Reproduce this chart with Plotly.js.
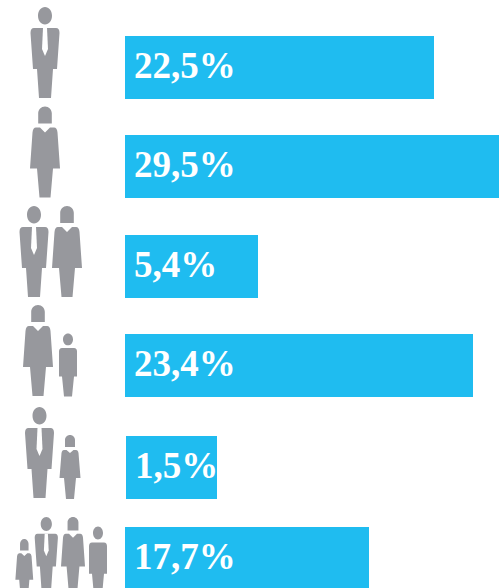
<!DOCTYPE html>
<html><head><meta charset="utf-8">
<script src="https://cdn.plot.ly/plotly-3.0.1.min.js"></script>
<style>html,body{margin:0;padding:0;background:#fff}#c{width:500px;height:588px}</style>
</head><body><div id="c"></div>
<script>
// Data
var groups = ["Man", "Woman", "Couple", "Mother and child", "Father and child", "Family"];
var labels = ["22,5%", "29,5%", "5,4%", "23,4%", "1,5%", "17,7%"];
var barLengths = [309, 374, 133, 348, 91, 244];
var barStarts = [125, 125, 125, 125, 126, 125];
var rowCentres = [67.5, 166.5, 266.5, 365.5, 467.5, 558.5];

var BLUE = "#1fbcf0", GREY = "#97989d";

function f(n){return n.toFixed(2);}
// Build an SVG path from [cmd, x, y, ...] segments in icon units
function path(segs, cx, top, sx, sy){
  return segs.map(function(s){
    var out = s[0];
    for (var i = 1; i < s.length; i += 2) {
      out += (i > 1 ? " " : "") + f(cx + s[i]*sx) + "," + f(top + s[i+1]*sy);
    }
    return out;
  }).join(" ");
}
function head(r, ry, cy){
  var k = 0.56;
  return [["M",-r,cy],
    ["C",-r,cy-ry*k,-r*k,cy-ry,0,cy-ry],["C",r*k,cy-ry,r,cy-ry*k,r,cy],
    ["C",r,cy+ry*k,r*k,cy+ry,0,cy+ry],["C",-r*k,cy+ry,-r,cy+ry*k,-r,cy],["Z"]];
}
function hair(r, h){
  var k = 0.56;
  return [["M",-r,h],["L",-r,r],["C",-r,r*(1-k),-r*k,0,0,0],["C",r*k,0,r,r*(1-k),r,r],["L",r,h],["Z"]];
}
var MAN = head(7,8.7,8.7).concat([
  ["M",-11,21],["L",11,21],["Q",14.5,21,14.5,26],["L",12,62],["L",8,62],["L",6,91],["L",-6,91],["L",-8,62],["L",-12,62],["L",-14.5,26],["Q",-14.5,21,-11,21],["Z"]
]);
var TIE = [["M",-2,21],["L",2,21],["L",3,42],["L",0,49],["L",-3,42],["Z"]];
var WOMAN = hair(6.8,17).concat([
  ["M",-9,21],["L",-5,21],["L",0,26],["L",5,21],["L",9,21],["Q",12,21,12.5,26],["L",15,62],["L",8,62],["L",5.5,91],["L",-5.5,91],["L",-8,62],["L",-15,62],["L",-12.5,26],["Q",-12,21,-9,21],["Z"]]);
var BOY = head(5,5.9,5.9).concat([
  ["M",-6,14.5],["L",6,14.5],["Q",9,14.5,9,18],["L",9,43],["L",6,43],["L",4,63],["L",-4,63],["L",-6,43],["L",-9,43],["L",-9,18],["Q",-9,14.5,-6,14.5],["Z"]
]);
var GIRL = hair(5,12).concat([
  ["M",-6,15],["L",-3.5,15],["L",0,18],["L",3.5,15],["L",6,15],["Q",8,15,8.5,18],["L",10.5,43],["L",6,43],["L",4,64],["L",-4,64],["L",-6,43],["L",-10.5,43],["L",-8.5,18],["Q",-8,15,-6,15],["Z"]]);

var shapes = [];
function add(segs, cx, top, sx, sy, color){
  shapes.push({type:"path", xref:"x", yref:"y", layer:"above", path:path(segs,cx,top,sx,sy),
    fillcolor:color, line:{width:0}});
}
function man(cx,top,sx,sy){ add(MAN,cx,top,sx,sy,GREY); add(TIE,cx,top,sx,sy,"#ffffff"); }
function woman(cx,top,sx,sy){ add(WOMAN,cx,top,sx,sy,GREY); }
function boy(cx,top,sx,sy){ add(BOY,cx,top,sx,sy,GREY); }
function girl(cx,top,sx,sy){ add(GIRL,cx,top,sx,sy,GREY); }

man(45,7,1,1);
woman(45,106.5,1,1);
man(34,206,1,1); woman(67,206,1,1);
woman(38,305,1,1); boy(68,333.5,1,1);
man(39.5,407,1,1); girl(70,435,1,1);
girl(24.3,539,0.85,0.95); man(46.3,517,0.8,0.8); woman(73,517,0.8,0.8); boy(98,526.5,1,1.1);

var bars = {
  type:"bar", orientation:"h", x:barLengths, base:barStarts, y:rowCentres, width:63,
  marker:{color:BLUE, line:{width:0}}, customdata:groups, hoverinfo:"skip"
};
var text = {
  type:"scatter", mode:"text", x:barStarts.map(function(b){return b+9;}),
  y:rowCentres.map(function(c){return c+1.5;}),
  text:labels, textposition:"middle right", hoverinfo:"skip", cliponaxis:false,
  textfont:{family:"'Liberation Serif', serif", size:37, color:"#ffffff", weight:"bold"}
};
Plotly.newPlot("c",[bars,text],{
  width:500,height:588,margin:{l:0,r:0,t:0,b:0},showlegend:false,
  paper_bgcolor:"#fff",plot_bgcolor:"#fff",
  xaxis:{range:[0,500],visible:false,fixedrange:true},
  yaxis:{range:[588,0],visible:false,fixedrange:true},
  shapes:shapes
},{staticPlot:true,displayModeBar:false});
</script></body></html>
